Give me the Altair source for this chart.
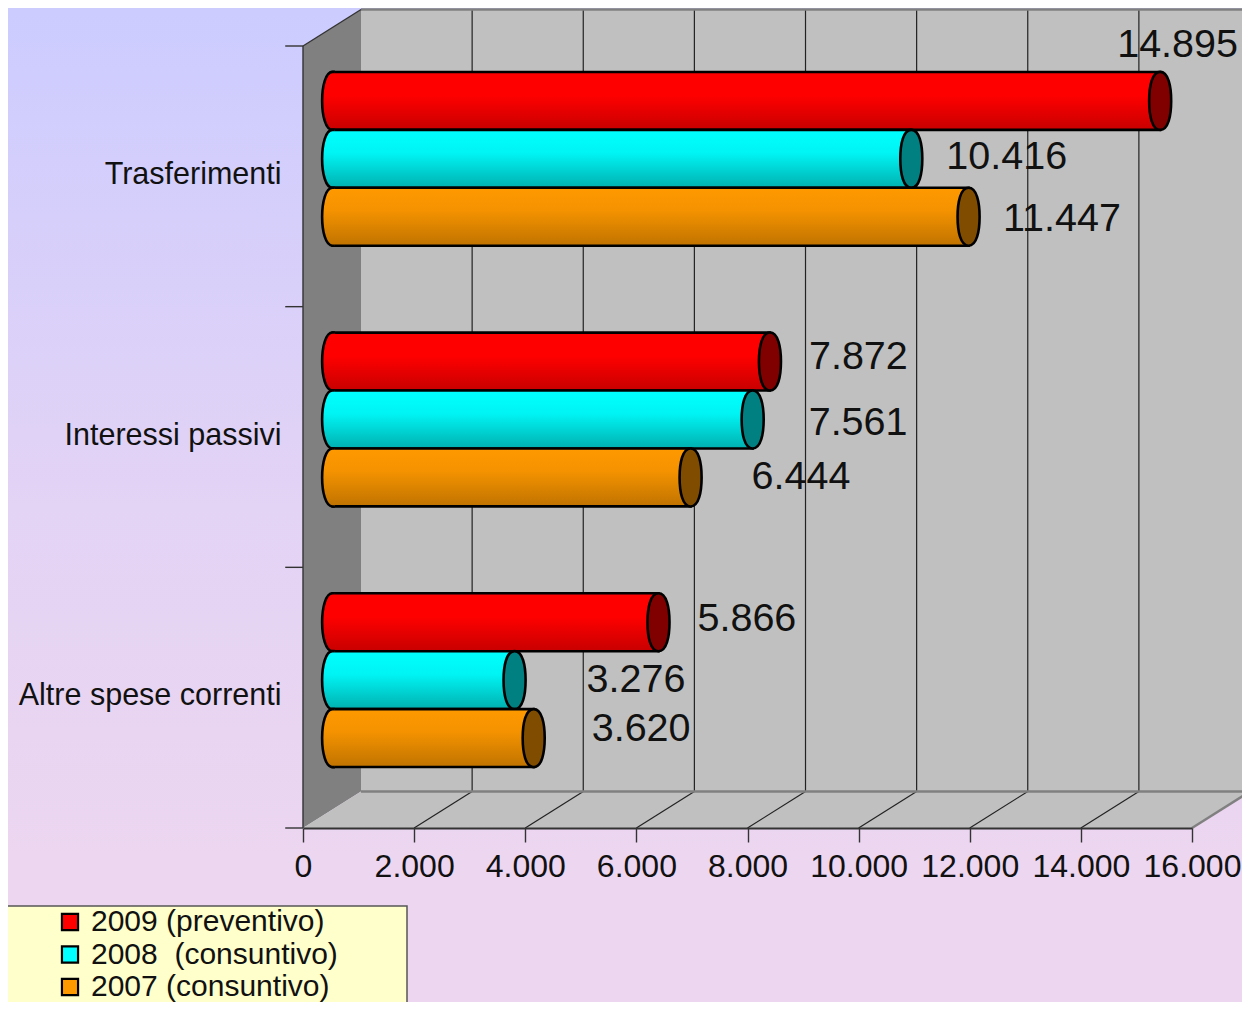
import altair as alt

categories = ["Trasferimenti", "Interessi passivi", "Altre spese correnti"]
series_names = ["2009 (preventivo)", "2008\u00a0 (consuntivo)", "2007 (consuntivo)"]
values_2009 = [14895, 7872, 5866]
values_2008 = [10416, 7561, 3276]
values_2007 = [11447, 6444, 3620]
x_ticks = [0, 2000, 4000, 6000, 8000, 10000, 12000, 14000, 16000]

FONT = "Liberation Sans"
W, H = 889, 782
PAD = dict(left=295, top=38, right=50, bottom=174)
DX = 1044      # depth of the 3-D box in x units
DY = 0.14      # depth of the 3-D box in y units (one unit = one category)
MID = DX / 2 + 10

swatch = ["#ff0000", "#00ffff", "#ff9900"]
caps = ["#800000", "#008080", "#804c00"]
shades = [
    ["#ff0000", "#ff0000", "#c80000"],
    ["#00ffff", "#00f4f4", "#00b0b0"],
    ["#ff9900", "#f49200", "#c07300"],
]


def grad(cols, stops=(0.0, 0.4, 1.0)):
    return alt.LinearGradient(
        gradient="linear", x1=0, x2=0, y1=0, y2=1,
        stops=[alt.GradientStop(color=c, offset=o) for c, o in zip(cols, stops)],
    )


xs = alt.Scale(domain=[0, 16000], nice=False, zero=False)
ys = alt.Scale(domain=[0, 3], nice=False, zero=False)
x_axis = alt.Axis(
    title=None, values=x_ticks, orient="bottom", grid=False,
    domainColor="#333333", domainWidth=2, tickColor="#333333", tickSize=14, tickWidth=1.4,
    labelFont=FONT, labelFontSize=32, labelColor="#111111", labelPadding=9,
    labelOverlap=False, labelFlush=False, zindex=1,
    labelExpr="replace(format(datum.value, ','), ',', '.')",
)


def X(f):
    return alt.X(f, type="quantitative", scale=xs, axis=x_axis)


def Y(f):
    return alt.Y(f, type="quantitative", scale=ys, axis=None)


def tbl(rows):
    return alt.Data(values=rows)


one = tbl([{}])

page = alt.Chart(one).mark_rect(
    fill=grad(["#ccccff", "#e3d3f5", "#ecd6f0"], (0, 0.5, 0.85))
).encode(
    x=alt.value(-PAD["left"]), x2=alt.value(W + PAD["right"]),
    y=alt.value(-PAD["top"]), y2=alt.value(H + PAD["bottom"]),
)

legend_box = alt.Chart(one).mark_rect(
    fill="#ffffcc", stroke="#555555", strokeWidth=1.5
).encode(
    x=alt.value(-PAD["left"] - 4), x2=alt.value(104),
    y=alt.value(860), y2=alt.value(H + PAD["bottom"] + 4),
)

side = alt.Chart(tbl([
    {"x": 0, "y": 3, "y2": 0},
    {"x": DX, "y": 3 + DY, "y2": DY},
])).mark_area(fill="#808080", opacity=1, orient="vertical").encode(
    x=X("x"), y=Y("y"), y2="y2")

floor = alt.Chart(tbl([
    {"y": 0, "x": 0, "x2": 16000},
    {"y": DY, "x": DX, "x2": 16000 + DX},
])).mark_area(fill="#c0c0c0", opacity=1, orient="horizontal").encode(
    y=Y("y"), x=X("x"), x2="x2")

back = alt.Chart(tbl([{"x": DX, "x2": 16000 + DX, "y": DY, "y2": 3 + DY}])).mark_rect(
    fill="#c0c0c0").encode(x=X("x"), x2="x2", y=Y("y"), y2="y2")

inner = x_ticks[1:-1]
grid_rows = [{"x": v + DX, "x2": v + DX, "y": DY, "y2": 3 + DY} for v in inner]
grid_rows += [{"x": v, "x2": v + DX, "y": 0, "y2": DY} for v in inner]
grid = alt.Chart(tbl(grid_rows)).mark_rule(color="#222222", strokeWidth=1.2).encode(
    x=X("x"), x2="x2", y=Y("y"), y2="y2")

edge_rows = [
    {"x": DX, "x2": 16000 + DX, "y": 3 + DY, "y2": 3 + DY},
    {"x": DX, "x2": 16000 + DX, "y": DY, "y2": DY},
    {"x": 16000, "x2": 16000 + DX, "y": 0, "y2": DY},
]
edges = alt.Chart(tbl(edge_rows)).mark_rule(color="#808080", strokeWidth=2.5).encode(
    x=X("x"), x2="x2", y=Y("y"), y2="y2")

frame_rows = [
    {"x": 0, "x2": 0, "y": 0, "y2": 3},
    {"x": 0, "x2": DX, "y": 3, "y2": 3 + DY},
] + [{"x": -320, "x2": 0, "y": k, "y2": k} for k in range(4)]
frame = alt.Chart(tbl(frame_rows)).mark_rule(color="#333333", strokeWidth=1.4).encode(
    x=X("x"), x2="x2", y=Y("y"), y2="y2")

frame_layers = alt.layer(page, legend_box, side, floor, back, grid, edges, frame)

rows = []
for i, name in enumerate(series_names):
    vals = [values_2009, values_2008, values_2007][i]
    for c, v in zip(categories, vals):
        rows.append({"cat": c, "series": name, "value": v,
                     "start": MID, "end": v + MID})

band_y = alt.Y(
    "cat:N",
    scale=alt.Scale(domain=categories, range=[-17.5, H - 17.5],
                    paddingInner=1 / 3, paddingOuter=1 / 6),
    axis=alt.Axis(title=None, ticks=False, domain=False, grid=False,
                  labelFont=FONT, labelFontSize=30.5, labelColor="#111111",
                  labelPadding=22, labelOffset=16, zindex=1, labelLimit=400),
)
band_off = alt.YOffset("series:N", scale=alt.Scale(domain=series_names))

ELLIPSE = ("M0,-1 C0.28,-1 0.38,-0.5 0.38,0 C0.38,0.5 0.28,1 0,1 "
           "C-0.28,1 -0.38,0.5 -0.38,0 C-0.38,-0.5 -0.28,-1 0,-1 Z")
LEFT_HALF = ("M0.08,-1 L0,-1 C-0.24,-1 -0.36,-0.5 -0.36,0 "
             "C-0.36,0.5 -0.24,1 0,1 L0.08,1")
CAP_SIZE = 58 ** 2

label_nudges = {
    series_names[0]: [(-43, -56), (39, -5), (39, -3)],
    series_names[1]: [(35, -2), (56, 3), (72, 0)],
    series_names[2]: [(34.5, 2), (61, 0), (58, -9)],
}

bar_layers = []
for i, name in enumerate(series_names):
    sub = [r for r in rows if r["series"] == name]
    data = tbl(sub)
    base = alt.Chart(data)
    g = grad(shades[i])
    body = base.mark_bar(fill=g, stroke="#000000", strokeWidth=2.6, opacity=1).encode(
        x=X("start"), x2="end", y=band_y, yOffset=band_off)
    left = base.mark_point(shape=LEFT_HALF, size=CAP_SIZE, filled=True, fill=g, stroke="#000000",
                           strokeWidth=2.6, opacity=1).encode(
        x=X("start"), y=band_y, yOffset=band_off)
    right = base.mark_point(shape=ELLIPSE, size=CAP_SIZE, filled=True, fill=caps[i], stroke="#000000",
                            strokeWidth=2.6, opacity=1).encode(
        x=X("end"), y=band_y, yOffset=band_off)
    bar_layers += [body, left, right]

for i, name in enumerate(series_names):
    sub = [r for r in rows if r["series"] == name]
    for r, (dx, dy) in zip(sub, label_nudges[name]):
        r["label"] = f"{r['value']:,}".replace(",", ".")
        bar_layers.append(
            alt.Chart(tbl([r])).mark_text(
                align="left", baseline="middle", dx=dx, dy=dy,
                font=FONT, fontSize=39.5, color="#111111",
            ).encode(x=X("end"), y=band_y, yOffset=band_off, text="label:N")
        )

bars = alt.layer(*bar_layers)

key = alt.Chart(tbl([{"series": s} for s in series_names])).mark_square(size=0, opacity=0).encode(
    x=alt.value(0), y=alt.value(0),
    color=alt.Color("series:N", scale=alt.Scale(domain=series_names, range=swatch),
                    legend=alt.Legend(
                        title=None, orient="none", legendX=-248, legendY=861,
                        padding=0, symbolType="square", symbolSize=260, symbolOpacity=1,
                        symbolStrokeColor="#000000", symbolStrokeWidth=2.2,
                        labelFont=FONT, labelFontSize=30, labelColor="#111111",
                        labelOffset=6, rowPadding=2.5, labelLimit=400, offset=0,
                    )),
)

chart = alt.layer(frame_layers, bars, key).resolve_scale(y="independent").properties(
    width=W, height=H, autosize=alt.AutoSizeParams(type="none"), padding=PAD,
).configure_view(stroke=None)

chart.save("out.html", embed_options={"renderer": "svg", "actions": False})
